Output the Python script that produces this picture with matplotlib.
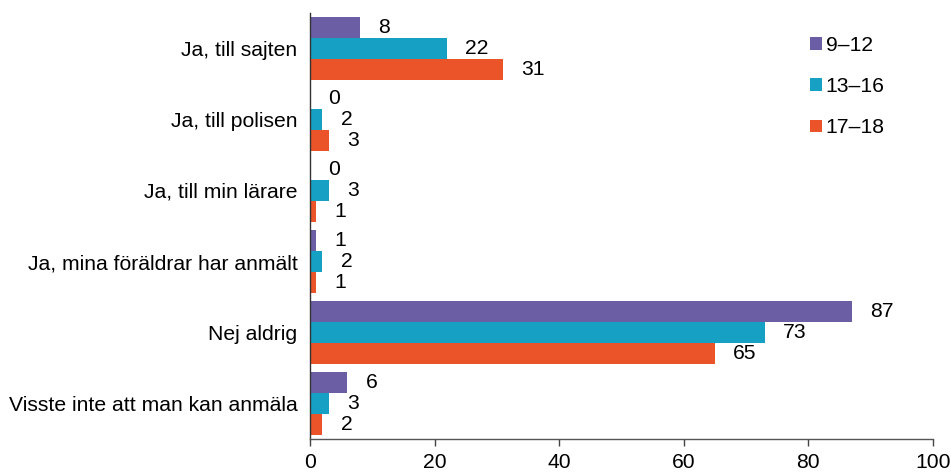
import matplotlib
matplotlib.use("Agg")
import matplotlib.pyplot as plt
import numpy as np

categories = ["Ja, till sajten", "Ja, till polisen", "Ja, till min lärare",
              "Ja, mina föräldrar har anmält", "Nej aldrig",
              "Visste inte att man kan anmäla"]
series_names = ["9–12", "13–16", "17–18"]
v_9_12 = [8, 0, 0, 1, 87, 6]
v_13_16 = [22, 2, 3, 2, 73, 3]
v_17_18 = [31, 3, 1, 1, 65, 2]
colors = ["#6B5EA5", "#15A0C4", "#EA5428"]
xticks = [0, 20, 40, 60, 80, 100]

plt.rcParams['font.family'] = ['Liberation Sans', 'DejaVu Sans']
FS = 15.2

fig = plt.figure(figsize=(9.51, 4.73), dpi=100)
ax = fig.add_axes([310/951, 1 - 439/473, (933-310)/951, (439-13)/473])

y = np.arange(len(categories))
h = 0.295
for i, (vals, name, c) in enumerate(zip([v_9_12, v_13_16, v_17_18], series_names, colors)):
    pos = y + (i - 1) * h
    ax.barh(pos, vals, height=h, color=c, label=name)
    for p, v in zip(pos, vals):
        ax.annotate(str(v), xy=(v, p), xytext=(13, 0), textcoords='offset points',
                    ha='left', va='center', fontsize=FS, color='black')

ax.set_ylim(len(categories) - 0.5, -0.5)
ax.set_xlim(0, 100)
ax.set_xticks(xticks)
ax.set_yticks(y)
ax.set_yticklabels(categories)
ax.tick_params(axis='y', length=0, pad=9, labelsize=FS)
ax.tick_params(axis='x', length=5, width=1, color='#444444', pad=5, labelsize=FS, direction='out')
for s in ['top', 'right']:
    ax.spines[s].set_visible(False)
ax.spines['left'].set_color('#333333')
ax.spines['bottom'].set_color('#555555')
ax.spines['left'].set_linewidth(1)
ax.spines['bottom'].set_linewidth(1)

ax.legend(loc='upper left', bbox_to_anchor=(0.772, 1.0 - 4/426),
          frameon=False, fontsize=FS, handlelength=0.55, handleheight=0.55,
          handletextpad=0.2, labelspacing=1.05)

fig.savefig("out.png", dpi=100)
